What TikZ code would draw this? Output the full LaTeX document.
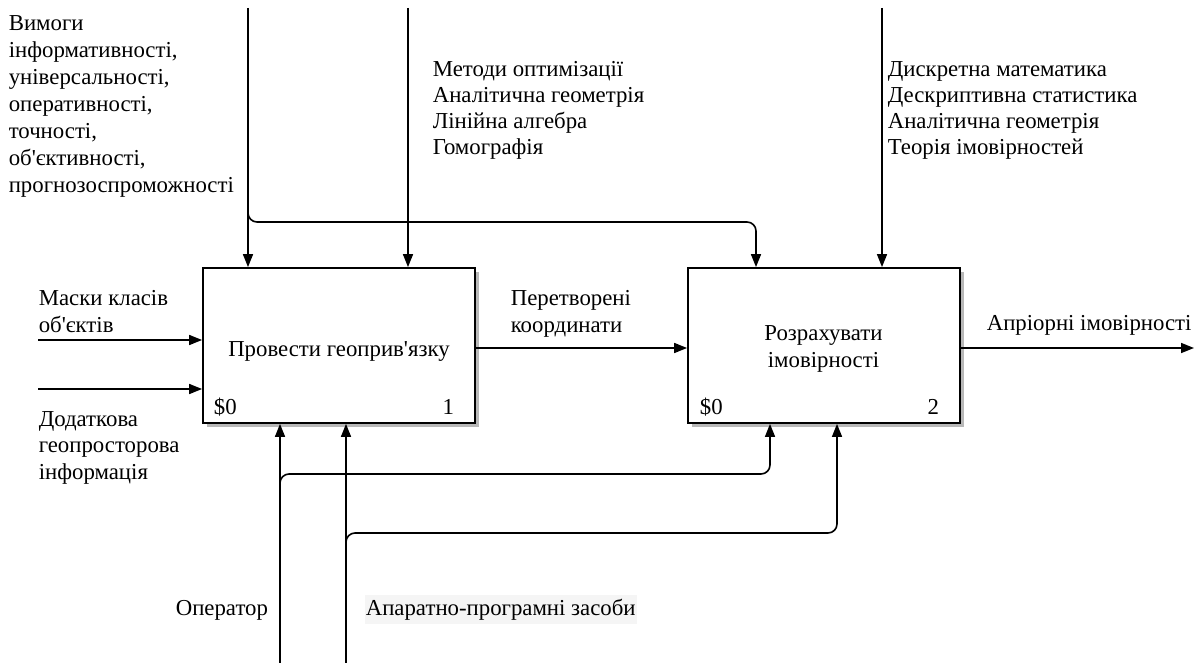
\documentclass[tikz,border=0pt]{standalone}
\usepackage{fontspec}
\setmainfont{Liberation Serif}
\usetikzlibrary{arrows.meta,shadows}
\newcommand{\apos}{\textquotesingle}
\begin{document}
\begin{tikzpicture}[x=1pt,y=-1pt,
  line width=1.6pt,
  flow/.style={-{Triangle[length=13pt,width=10pt]}, rounded corners=9pt},
  func/.style={draw, fill=white, line width=1.8pt, minimum width=272pt,
    minimum height=155pt, inner sep=0pt,
    drop shadow={shadow xshift=4pt, shadow yshift=-4pt, fill=black!28, opacity=1}},
  txt/.style={font=\fontsize{22.8}{26.2}\selectfont, inner sep=0pt},
  lbl/.style={txt, align=left, anchor=base west},
]
\useasboundingbox (0,0) rectangle (1196,663);

% activity boxes
\node[func] (b1) at (339,345.5) {};
\node[func] (b2) at (824,345.5) {};

% multi-line nodes are anchored at the baseline of their last line
\node[txt, anchor=base] (t1) at (339,356) {Провести геоприв\apos язку};
\node[txt, align=center, anchor=base] (t2) at (823.5,367) {Розрахувати\\імовірності};
\node[txt, anchor=base west] (n1a) at ([xshift=11pt, yshift=9pt]b1.south west) {\$0};
\node[txt, anchor=base east] (n1b) at ([xshift=-21pt, yshift=9pt]b1.south east) {1};
\node[txt, anchor=base west] (n2a) at ([xshift=12pt, yshift=9pt]b2.south west) {\$0};
\node[txt, anchor=base east] (n2b) at ([xshift=-21pt, yshift=9pt]b2.south east) {2};

% controls from above
\coordinate (c1) at (248,8);
\coordinate (c2) at (408,8);
\coordinate (c3) at (882,8);
\coordinate (jc) at (248,200);
\coordinate (jcr) at (756,222);
\draw[flow] (c1) -- (c1 |- b1.north);
\draw[flow] (c2) -- (c2 |- b1.north);
\draw[flow] (c3) -- (c3 |- b2.north);
\draw[flow] (jc) |- (jcr) -- (jcr |- b2.north);

% inputs and outputs
\coordinate (i1) at (38,340);
\coordinate (i2) at (38,389);
\coordinate (o2) at (1194,348);
\draw[flow] (i1) -- (i1 -| b1.west);
\draw[flow] (i2) -- (i2 -| b1.west);
\draw[flow] ([yshift=-2.5pt]b1.east) -- ([yshift=-2.5pt]b2.west);
\draw[flow] ([yshift=-2.5pt]b2.east) -- (o2);

% mechanisms from below
\coordinate (m1) at (280,663);
\coordinate (m2) at (346,663);
\coordinate (jm1) at (280,495);
\coordinate (jm1r) at (770,474);
\coordinate (jm2) at (346,555);
\coordinate (jm2r) at (837,533);
\draw[flow] (m1) -- (m1 |- b1.south);
\draw[flow] (m2) -- (m2 |- b1.south);
\draw[flow] (jm1) |- (jm1r) -- (jm1r |- b2.south);
\draw[flow] (jm2) |- (jm2r) -- (jm2r |- b2.south);

% labels
\node[lbl, font=\fontsize{22.8}{27}\selectfont] (lreq) at (8,193) {Вимоги\\інформативності,\\універсальності,\\оперативності,\\точності,\\об\apos єктивності,\\прогнозоспроможності};
\node[lbl] (lmeth) at (432,155) {Методи оптимізації\\Аналітична геометрія\\Лінійна алгебра\\Гомографія};
\node[lbl] (lmath) at (887,155) {Дискретна математика\\Дескриптивна статистика\\Аналітична геометрія\\Теорія імовірностей};
\node[lbl] (lmask) at (38,332) {Маски класів\\об\apos єктів};
\node[lbl] (ladd) at (38,479) {Додаткова\\геопросторова\\інформація};
\node[lbl] (ltrans) at (510,332) {Перетворені\\координати};
\node[lbl] (lout) at (986,330) {Апріорні імовірності};
\node[lbl] (lop) at (175,615) {Оператор};
\node[lbl, fill=black!4, inner xsep=1pt, inner ysep=4pt] (lhw) at (364,615) {Апаратно-програмні засоби};
\end{tikzpicture}
\end{document}
